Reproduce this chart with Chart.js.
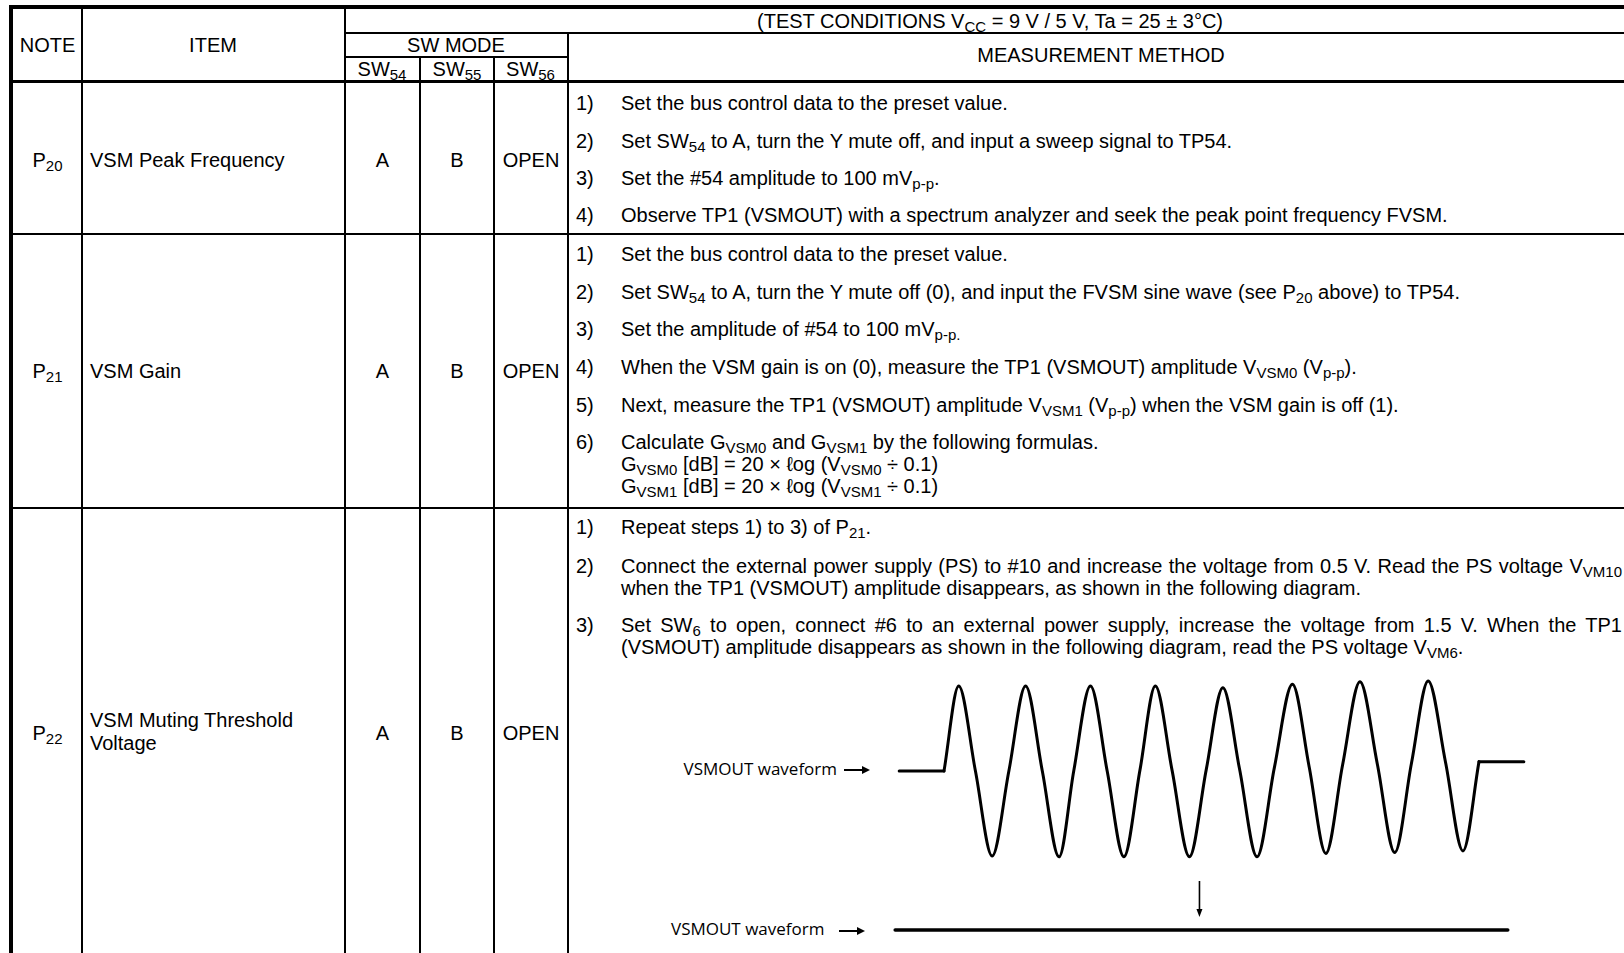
<!DOCTYPE html>
<html><head><meta charset="utf-8">
<script src="https://cdn.jsdelivr.net/npm/chart.js@4.4.0/dist/chart.umd.min.js"></script>
<style>
html,body{margin:0;padding:0;background:#fff;overflow:hidden;width:1624px;height:953px;}
#page{position:relative;width:1624px;height:953px;overflow:hidden;font-family:"Liberation Sans",Arial,sans-serif;font-size:20px;color:#000;background:#fff;}
.ln{position:absolute;background:#000;}
.t{position:absolute;white-space:nowrap;line-height:22px;}
.c{text-align:center;}
.j{text-align:justify;text-align-last:justify;white-space:normal;}
.s{font-size:15px;position:relative;top:4px;line-height:0;}
.lab{position:absolute;font-family:"Open Sans","Noto Sans",sans-serif;font-size:17px;white-space:nowrap;line-height:22px;}
.arr{position:absolute;height:2px;background:#000;}
.arr:after{content:"";position:absolute;right:-7px;top:-3px;border-left:8px solid #000;border-top:4px solid transparent;border-bottom:4px solid transparent;}
canvas{position:absolute;}
</style></head>
<body><div id="page">
<canvas id="wave" width="660" height="200" style="left:880px;top:670px;"></canvas>
<canvas id="muted" width="660" height="70" style="left:880px;top:875px;"></canvas>
</div>
<script>
// ---------- table content ----------
const notes = ['P<span class="s">20</span>','P<span class="s">21</span>','P<span class="s">22</span>'];
const items = [['VSM Peak Frequency'],['VSM Gain'],['VSM Muting Threshold','Voltage']];
const sw54 = ['A','A','A'];
const sw55 = ['B','B','B'];
const sw56 = ['OPEN','OPEN','OPEN'];
const stepsP20 = [
 ['1)','Set the bus control data to the preset value.'],
 ['2)','Set SW<span class="s">54</span> to A, turn the Y mute off, and input a sweep signal to TP54.'],
 ['3)','Set the #54 amplitude to 100 mV<span class="s">p-p</span>.'],
 ['4)','Observe TP1 (VSMOUT) with a spectrum analyzer and seek the peak point frequency FVSM.']
];
const stepsP21 = [
 ['1)','Set the bus control data to the preset value.'],
 ['2)','Set SW<span class="s">54</span> to A, turn the Y mute off (0), and input the FVSM sine wave (see P<span class="s">20</span> above) to TP54.'],
 ['3)','Set the amplitude of #54 to 100 mV<span class="s">p-p.</span>'],
 ['4)','When the VSM gain is on (0), measure the TP1 (VSMOUT) amplitude V<span class="s">VSM0</span> (V<span class="s">p-p</span>).'],
 ['5)','Next, measure the TP1 (VSMOUT) amplitude V<span class="s">VSM1</span> (V<span class="s">p-p</span>) when the VSM gain is off (1).'],
 ['6)','Calculate G<span class="s">VSM0</span> and G<span class="s">VSM1</span> by the following formulas.'],
 ['','G<span class="s">VSM0</span> [dB] = 20 × ℓog (V<span class="s">VSM0</span> ÷ 0.1)'],
 ['','G<span class="s">VSM1</span> [dB] = 20 × ℓog (V<span class="s">VSM1</span> ÷ 0.1)']
];
const stepsP22 = [
 ['1)','Repeat steps 1) to 3) of P<span class="s">21</span>.'],
 ['2)','Connect the external power supply (PS) to #10 and increase the voltage from 0.5 V. Read the PS voltage V<span class="s">VM10</span>'],
 ['','when the TP1 (VSMOUT) amplitude disappears, as shown in the following diagram.'],
 ['3)','Set SW<span class="s">6</span> to open, connect #6 to an external power supply, increase the voltage from 1.5 V. When the TP1'],
 ['','(VSMOUT) amplitude disappears as shown in the following diagram, read the PS voltage V<span class="s">VM6</span>.']
];
const waveLabel = 'VSMOUT waveform';

// ---------- waveform data (arbitrary time units / relative level) ----------
const beforeTime = [-0.67, 0];
const beforeLevel = [0, 0];
const sineTime = [0, 0.22, 0.47, 0.72, 0.97, 1.22, 1.47, 1.72, 1.94, 2.19, 2.44, 2.69, 2.93, 3.16, 3.41, 3.67, 3.92, 4.17, 4.42, 4.68, 4.94, 5.21, 5.46, 5.71, 5.96, 6.22, 6.48, 6.74, 6.99, 7.24, 7.50, 7.76, 8.0];
const sineLevel = [0, 1.00, 0, -1.00, 0, 1.00, 0, -1.01, 0, 1.00, 0, -1.01, 0.01, 1.00, 0.01, -1.01, 0.01, 0.98, 0.02, -1.01, 0.04, 1.02, 0.05, -0.97, 0.07, 1.05, 0.08, -0.96, 0.09, 1.06, 0.10, -0.94, 0.11];
const afterTime = [8.0, 8.67];
const afterLevel = [0.11, 0.11];
const mutedTime = [-0.73, 8.43];
const mutedLevel = [0, 0];
const arrowTime = 3.82;

// ---------- build table ----------
const page = document.getElementById('page');
function line(x,y,w,h){const d=document.createElement('div');d.className='ln';d.style.cssText=`left:${x}px;top:${y}px;width:${w}px;height:${h}px;`;page.appendChild(d);}
function txt(x,base,html,cls,w){const d=document.createElement('div');d.className='t'+(cls?' '+cls:'');d.innerHTML=html;
  let st=`top:${base-18}px;`;
  if(cls&&cls.indexOf('c')>=0){st+=`left:${x-(w/2)}px;width:${w}px;`;} else {st+=`left:${x}px;`; if(w) st+=`width:${w}px;`;}
  d.style.cssText=st;page.appendChild(d);}

// borders
line(9,5,1640,3.5);
line(9,5,3.5,960);
line(9,79.8,1640,3.5);
line(12,233.2,1640,2);
line(12,506.7,1640,2);
line(344,31.5,1300,2);
line(344,56,224,2);
line(81,5,2,960);
line(344,5,2,960);
line(419,56,2,910);
line(493,56,2,910);
line(566.5,31.5,2,935);

// header
txt(990,27.5,'(TEST CONDITIONS V<span class="s">CC</span> = 9 V / 5 V, Ta = 25 ± 3°C)','c',900);
txt(47.5,51.7,'NOTE','c',70);
txt(213,51.7,'ITEM','c',250);
txt(456,51.7,'SW MODE','c',220);
txt(382,76,'SW<span class="s">54</span>','c',74);
txt(457,76,'SW<span class="s">55</span>','c',74);
txt(530.5,76,'SW<span class="s">56</span>','c',72);
txt(1101,62,'MEASUREMENT METHOD','c',800);

// left columns
const rowBase = [166.7, 378, 740];
const itemBase = [[166.7],[378],[727,749.5]];
for(let r=0;r<3;r++){
  txt(47.5,rowBase[r],notes[r],'c',70);
  items[r].forEach((s,i)=>txt(90,itemBase[r][i],s));
  txt(382.5,rowBase[r],sw54[r],'c',74);
  txt(457,rowBase[r],sw55[r],'c',74);
  txt(531,rowBase[r],sw56[r],'c',72);
}
// method steps
function steps(list,bases,justify){
  list.forEach((s,i)=>{ if(s[0]) txt(576,bases[i],s[0]); txt(621,bases[i],s[1],justify&&justify[i]?'j':'',justify&&justify[i]?1001:0); });
}
steps(stepsP20,[110,147.5,184.5,222]);
steps(stepsP21,[261,299,336,374,412,449,471,493]);
steps(stepsP22,[534,573,595,632,654],[false,true,false,true,false]);

// waveform labels
function lab(x,cy,text,ax,aw){const d=document.createElement('div');d.className='lab';d.textContent=text;d.style.cssText=`left:${x}px;top:${cy-11.5}px;`;page.appendChild(d);
  const a=document.createElement('div');a.className='arr';a.style.cssText=`left:${ax}px;top:${cy}px;width:${aw}px;`;page.appendChild(a);}
lab(683.6,769,waveLabel,844,19);
lab(671,929.5,waveLabel,839,19);

// ---------- charts ----------
const toXY=(ts,vs)=>ts.map((t,i)=>({x:t,y:vs[i]}));
const baseOpts=(ymin,ymax)=>({responsive:false,animation:false,events:[],layout:{padding:0},
  plugins:{legend:{display:false},tooltip:{enabled:false}},
  elements:{point:{radius:0},line:{borderColor:'#000',borderWidth:3,borderCapStyle:'round',borderJoinStyle:'round',fill:false}},
  scales:{x:{type:'linear',display:false,min:-0.957,max:8.912},y:{type:'linear',display:false,min:ymin,max:ymax}}});

new Chart(document.getElementById('wave'),{type:'line',
  data:{datasets:[
    {label:'VSMOUT before',data:toXY(beforeTime,beforeLevel),tension:0,clip:false},
    {label:'VSMOUT',data:toXY(sineTime,sineLevel),cubicInterpolationMode:'monotone',clip:false},
    {label:'VSMOUT after',data:toXY(afterTime,afterLevel),tension:0,clip:false}
  ]},
  options:baseOpts(-1.165,1.188)});

const arrowPlugin={id:'downArrow',afterDatasetsDraw(ch){
  const {ctx,scales:{x,y}}=ch;const px=x.getPixelForValue(arrowTime);
  const y0=y.getPixelForValue(0.891), y1=y.getPixelForValue(0.236);
  ctx.save();ctx.strokeStyle='#000';ctx.fillStyle='#000';ctx.lineWidth=1.6;
  ctx.beginPath();ctx.moveTo(px,y0);ctx.lineTo(px,y1-7);ctx.stroke();
  ctx.beginPath();ctx.moveTo(px-3,y1-8);ctx.lineTo(px+3,y1-8);ctx.lineTo(px,y1);ctx.closePath();ctx.fill();
  ctx.restore();}};
const mo=baseOpts(-0.2727,1);mo.elements.line.borderWidth=3.5;
new Chart(document.getElementById('muted'),{type:'line',
  data:{datasets:[{label:'VSMOUT muted',data:toXY(mutedTime,mutedLevel),tension:0,clip:false}]},
  options:mo,plugins:[arrowPlugin]});
</script>
</body></html>
